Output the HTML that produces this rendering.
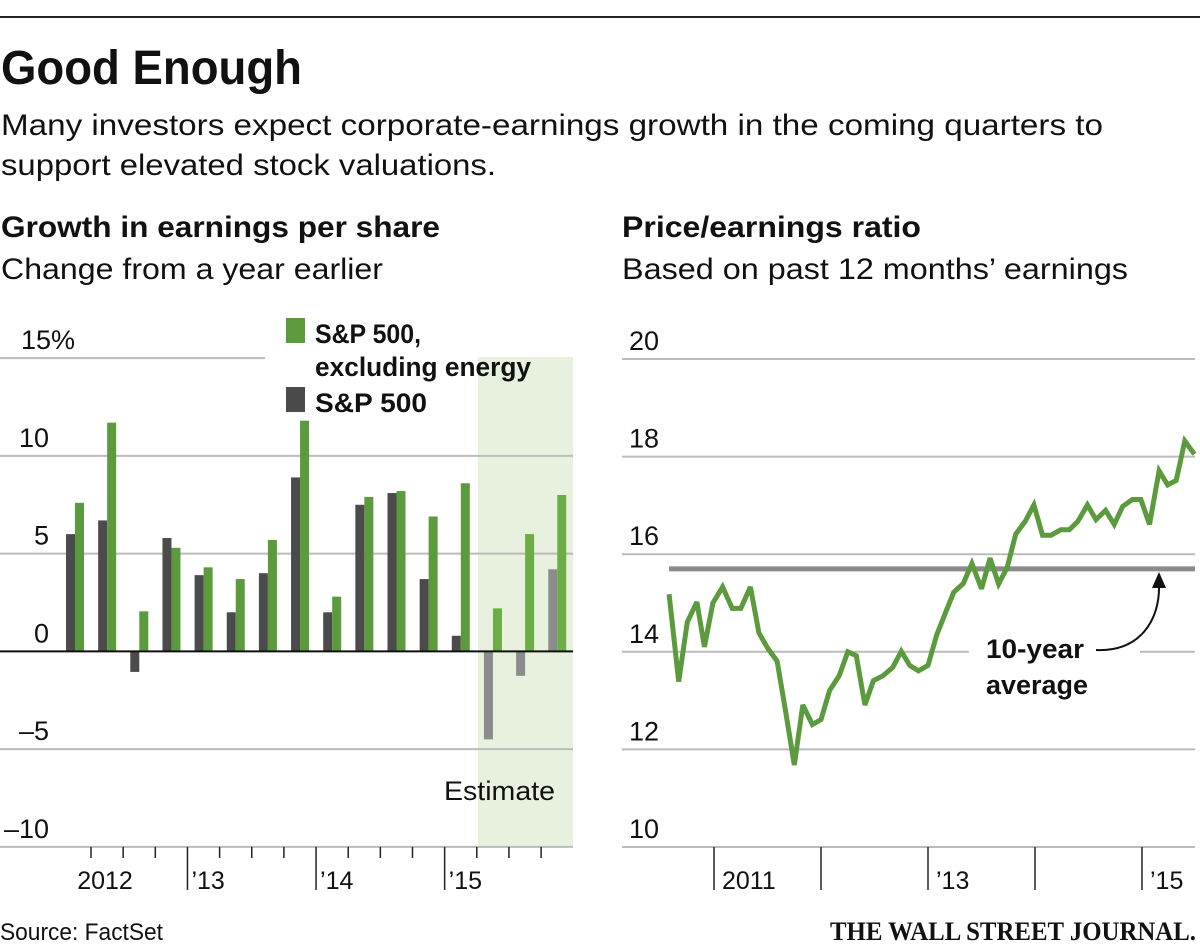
<!DOCTYPE html>
<html><head><meta charset="utf-8"><style>
html,body{margin:0;padding:0;background:#fff;}
svg{display:block;}
text{font-family:"Liberation Sans",sans-serif;fill:#111;}
</style></head><body>
<svg id="root" width="1200" height="946" viewBox="0 0 1200 946">
<rect x="0" y="16" width="1200" height="2" fill="#222"/>
<text x="1" y="84" font-size="48" font-weight="bold" textLength="301" lengthAdjust="spacingAndGlyphs">Good Enough</text>
<text x="1" y="135" font-size="30" textLength="1102" lengthAdjust="spacingAndGlyphs">Many investors expect corporate-earnings growth in the coming quarters to</text>
<text x="1" y="175" font-size="30" textLength="495" lengthAdjust="spacingAndGlyphs">support elevated stock valuations.</text>
<text x="1" y="237" font-size="30" font-weight="bold" textLength="439" lengthAdjust="spacingAndGlyphs">Growth in earnings per share</text>
<text x="1" y="279" font-size="30" textLength="382" lengthAdjust="spacingAndGlyphs">Change from a year earlier</text>
<text x="622" y="237" font-size="30" font-weight="bold" textLength="299" lengthAdjust="spacingAndGlyphs">Price/earnings ratio</text>
<text x="622" y="279" font-size="30" textLength="506" lengthAdjust="spacingAndGlyphs">Based on past 12 months’ earnings</text>
<g id="left"></g>
<g id="right"></g>
<text x="0" y="940" font-size="24" textLength="163" lengthAdjust="spacingAndGlyphs">Source: FactSet</text>
<text x="830" y="940" font-size="26" font-weight="bold" textLength="366" lengthAdjust="spacingAndGlyphs" style="font-family:'Liberation Serif',serif">THE WALL STREET JOURNAL.</text>
</svg>
<script>
// ---- Left chart data ----
const quarters = ["Q3 11","Q4 11","Q1 12","Q2 12","Q3 12","Q4 12","Q1 13","Q2 13","Q3 13","Q4 13","Q1 14","Q2 14","Q3 14","Q4 14","Q1 15","Q2 15"];
const sp500 = [6.0,6.7,-1.05,5.8,3.9,2.0,4.0,8.9,2.0,7.5,8.1,3.7,0.8,-4.5,-1.25,4.2];
const spExEnergy = [7.6,11.7,2.05,5.3,4.3,3.7,5.7,11.8,2.8,7.9,8.2,6.9,8.6,2.2,6.0,8.0];
const estimateFlags = [0,0,0,0,0,0,0,0,0,0,0,0,0,1,1,1];
const leftTicks = [-10,-5,0,5,10,15];
const leftYearLabels = ["2012","’13","’14","’15"];
// ---- Right chart data ----
const peDates = [2010.58,2010.67,2010.75,2010.84,2010.91,2010.99,2011.08,2011.17,2011.25,2011.34,2011.42,2011.50,2011.59,2011.67,2011.75,2011.83,2011.92,2012.00,2012.08,2012.17,2012.25,2012.33,2012.41,2012.49,2012.58,2012.67,2012.75,2012.83,2012.91,2013.00,2013.08,2013.16,2013.24,2013.33,2013.41,2013.50,2013.58,2013.66,2013.74,2013.82,2013.91,2013.99,2014.07,2014.15,2014.24,2014.32,2014.40,2014.49,2014.57,2014.66,2014.74,2014.82,2014.91,2014.99,2015.07,2015.16,2015.24,2015.32,2015.40,2015.49];
const peValues = [15.18,13.39,14.61,15.02,14.10,15.0,15.33,14.89,14.89,15.33,14.39,14.08,13.81,12.77,11.68,12.91,12.51,12.61,13.21,13.51,14.0,13.92,12.91,13.41,13.51,13.68,14.01,13.72,13.61,13.72,14.34,14.78,15.22,15.40,15.81,15.29,15.92,15.39,15.73,16.41,16.68,17.01,16.39,16.39,16.50,16.50,16.67,17.01,16.71,16.90,16.61,16.98,17.12,17.12,16.61,17.71,17.42,17.51,18.32,18.05];
const peAverage = [15.7];
const rightTicks = [10,12,14,16,18,20];
const rightYearTicks = [2011,2012,2013,2014,2015];
const rightYearLabels = ["2011","","’13","","’15"];

const NS="http://www.w3.org/2000/svg";
function mk(parent,tag,attrs,txt){const e=document.createElementNS(NS,tag);for(const k in attrs)e.setAttribute(k,attrs[k]);if(txt!==undefined)e.textContent=txt;parent.appendChild(e);return e;}

// Left chart
const L=document.getElementById('left');
const ly=v=>651.4-v*19.55;
const step=32.15, x0=66;
const lx=i=>x0+i*step;
const estStart=estimateFlags.indexOf(1);
let sh=mk(L,'rect',{x:lx(estStart)-6,y:357,width:573-(lx(estStart)-6),height:ly(-10)-357,fill:'#e8f0de'});


leftTicks.forEach(t=>{
  const y=ly(t);
  if(t!==0){const g=mk(L,'line',{x1:0,x2:t===15?265:573,y1:y,y2:y,stroke:'#bbb','stroke-width':2});
  
  }
  const lab=t===15
    ? mk(L,'text',{x:21,y:y-9,'font-size':27,'text-anchor':'start'},t+'%')
    : mk(L,'text',{x:49,y:y-9,'font-size':27,'text-anchor':'end'},(t<0?'–'+(-t):String(t)));
  
  
});
quarters.forEach((q,i)=>{
  const est=estimateFlags[i];
  const v1=sp500[i], v2=spExEnergy[i];
  const b1=mk(L,'rect',{x:lx(i),y:Math.min(ly(0),ly(v1)),width:9,height:Math.abs(ly(v1)-ly(0)),fill:est?'#8c8c8c':'#4b4b4b'});
  
  
  const b2=mk(L,'rect',{x:lx(i)+9,y:Math.min(ly(0),ly(v2)),width:9,height:Math.abs(ly(v2)-ly(0)),fill:est?'#6cad45':'#5b9a3d'});
  
  
});
const zl=mk(L,'line',{x1:0,x2:573,y1:ly(0),y2:ly(0),stroke:'#111','stroke-width':2});


for(let k=0;k<15;k++){
  const x=lx(k)+25;
  const major=(k===3||k===7||k===11);
  const t=mk(L,'line',{x1:x,x2:x,y1:ly(-10),y2:major?890:858,stroke:'#222','stroke-width':1.5});
  
  
}
const yl=[[105,'middle'],[lx(3)+29,'start'],[lx(7)+29,'start'],[lx(11)+29,'start']];
leftYearLabels.forEach((s,i)=>{
  const t=mk(L,'text',{x:yl[i][0],y:889,'font-size':25,'text-anchor':yl[i][1]},s);
  
  
});
let e=mk(L,'text',{x:444,y:800,'font-size':27,textLength:111,lengthAdjust:'spacingAndGlyphs'},'Estimate');


e=mk(L,'rect',{x:286,y:318,width:19,height:25,fill:'#5b9a3d'});


e=mk(L,'text',{x:315,y:343,'font-size':27,'font-weight':'bold',textLength:106,lengthAdjust:'spacingAndGlyphs'},'S&P 500,');


e=mk(L,'text',{x:315,y:376,'font-size':27,'font-weight':'bold',textLength:216,lengthAdjust:'spacingAndGlyphs'},'excluding energy');


e=mk(L,'rect',{x:286,y:387,width:19,height:25,fill:'#4b4b4b'});


e=mk(L,'text',{x:315,y:412,'font-size':27,'font-weight':'bold',textLength:112,lengthAdjust:'spacingAndGlyphs'},'S&P 500');



// Right chart
const R=document.getElementById('right');
const ry=v=>359+(20-v)*48.8;
const rx=d=>714+(d-2011)*107;
rightTicks.forEach(t=>{
  const y=ry(t);
  if(t===14){
    let a=mk(R,'line',{x1:622,x2:969,y1:y,y2:y,stroke:'#bbb','stroke-width':2});
    
    
    a=mk(R,'line',{x1:1140,x2:1195,y1:y,y2:y,stroke:'#bbb','stroke-width':2});
    
    
  } else {
    const g=mk(R,'line',{x1:622,x2:1195,y1:y,y2:y,stroke:'#bbb','stroke-width':2});
    
    
  }
  const lab=mk(R,'text',{x:659,y:y-9,'font-size':27,'text-anchor':'end'},String(t));
  
  
});
rightYearTicks.forEach((yr,i)=>{
  const x=rx(yr);
  const t=mk(R,'line',{x1:x,x2:x,y1:ry(10),y2:890,stroke:'#222','stroke-width':1.5});
  
  
  if(rightYearLabels[i]){
    const l=mk(R,'text',{x:x+8,y:889,'font-size':25},rightYearLabels[i]);
    
    
  }
});
e=mk(R,'line',{x1:rx(peDates[0]),x2:1195,y1:ry(peAverage[0]),y2:ry(peAverage[0]),stroke:'#8a8a8a','stroke-width':5});


const pts=peDates.map((d,i)=>rx(d).toFixed(1)+','+ry(peValues[i]).toFixed(1)).join(' ');
e=mk(R,'polyline',{points:pts,fill:'none',stroke:'#5b9a3d','stroke-width':5,'stroke-linejoin':'miter','stroke-miterlimit':3});


e=mk(R,'text',{x:986,y:658,'font-size':27,'font-weight':'bold',textLength:98,lengthAdjust:'spacingAndGlyphs'},'10-year');


e=mk(R,'text',{x:986,y:694,'font-size':27,'font-weight':'bold',textLength:102,lengthAdjust:'spacingAndGlyphs'},'average');


e=mk(R,'path',{d:'M1096 650 C1140 652 1160 620 1159 585',fill:'none',stroke:'#111','stroke-width':2});


e=mk(R,'polygon',{points:'1159,572 1152,588 1166,588',fill:'#111'});


</script>
</body></html>
